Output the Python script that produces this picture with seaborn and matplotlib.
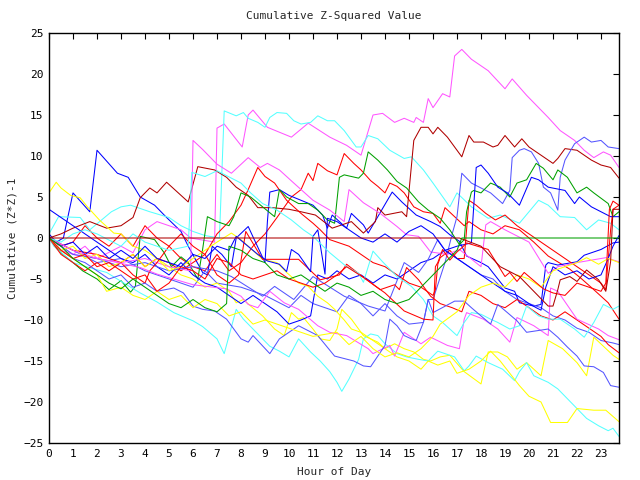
import matplotlib
matplotlib.use("Agg")
import matplotlib.pyplot as plt
import seaborn as sns
import pandas as pd

# ---- data: (hour, cumulative value) vertices ----
magenta_a = [(0,0),(0.5,-1.5),(1,-2),(1.5,-1),(2,-2.5),(3,-1),(3.5,-1.8),(4,1.0),(4.5,2.0),(5,1.5),(5.5,1.0),(5.9,0),
             (6.9,-0.5),(7.0,13.4),(7.3,13.9),(8.05,11.1),(8.3,15.0),(8.5,15.6),(9.1,13.5),(10.1,12.3),(10.8,14.0),
             (11.7,12.3),(12.4,11.3),(13.0,10.1),(13.5,15.0),(13.9,15.2),(14.4,14.1),(14.8,14.6),(15.2,14.1),(15.3,14.7),
             (15.6,14.1),(15.8,17.0),(16.0,15.9),(16.4,17.6),(16.7,17.2),(16.9,22.2),(17.2,23.0),(17.6,21.8),(18.3,20.4),
             (19.0,18.2),(19.3,19.4),(19.9,17.4),(20.4,15.9),(20.8,14.7),(21.3,13.1),(21.9,11.9),(22.3,10.7),(22.7,9.8),
             (23.1,10.5),(23.4,10.1),(23.75,8.6)]
magenta_b = [(0,0),(0.5,-1),(1,-2),(2,-2.5),(3,-3),(4,-2.5),(5,-3.5),(5.9,-4),(6.0,11.9),(6.4,10.8),(7.0,9.0),(7.6,7.9),
             (8.3,9.8),(8.8,8.6),(9.1,9.1),(9.6,8.3),(10.2,6.7),(11.0,4.6),(11.7,3.4),(12.3,2.0),(12.5,5.9),(13.1,4.3),
             (13.8,3.0),(14.5,1.4),(14.9,0.4),(15.4,0.2),(15.9,-1.7),(16.6,-2.0),(17.1,-1.4),(18.0,-3.5),(18.2,1.6),
             (18.4,2.0),(19.0,1.0),(20.0,-0.5),(20.8,-4.3),(21.2,-3.5),(22.0,-3.0),(22.6,-2.7),(23.2,-2.4),(23.75,-2.9)]
magenta_c = [(0,0),(1,-1.5),(2,-2.5),(2.7,-2.9),(3.8,-3.6),(4.5,-4.4),(6.0,-5.7),(7.4,-6.2),(8.0,-7.1),(8.3,-8.1),
             (8.7,-8.5),(8.9,-7.7),(9.2,-6.5),(9.8,-7.9),(10.4,-8.7),(11.2,-10.7),(11.7,-11.5),(12.4,-11.9),(13.3,-13.5),
             (13.5,-14.1),(14.2,-13.1),(14.4,-14.4),(14.8,-11.5),(15.5,-12.9),(15.9,-12.1),(16.6,-13.1),(17.1,-13.5),
             (17.3,-9.9),(17.4,-9.1),(18.1,-9.9),(18.7,-11.1),(19.2,-12.7),(19.5,-9.7),(20.2,-10.7),(20.8,-11.9),
             (20.9,-6.1),(21.2,-6.5),(22.0,-9.9),(22.9,-11.1),(23.3,-11.9),(23.75,-12.4)]
cyan_a = [(0,0.5),(0.4,2.6),(1.3,2.5),(1.7,1.0),(2.6,3.2),(3.0,3.8),(3.4,4.0),(4.2,3.2),(5.0,2.5),(5.5,1.5),(6.0,0.8),
          (6.5,0.3),(7.1,0),(7.3,15.5),(7.8,14.9),(8.1,15.3),(8.3,14.6),(8.7,14.1),(9.0,13.5),(9.2,14.7),(9.5,15.3),
          (9.9,15.2),(10.2,14.3),(10.5,13.9),(10.9,14.1),(11.2,14.9),(11.6,14.3),(11.9,14.3),(12.3,13.1),(12.8,11.1),
          (13.0,11.1),(13.3,12.5),(13.7,12.1),(14.2,10.7),(14.8,9.7),(15.1,9.9),(15.6,8.3),(16.0,6.7),(16.7,3.8),
          (17.0,5.5),(17.6,3.8),(18.3,2.4),(18.8,2.8),(19.6,1.8),(20.4,4.6),(20.8,4.0),(21.3,2.6),(21.9,2.5),
          (22.4,1.0),(22.9,2.2),(23.4,1.8),(23.75,1.0)]
cyan_b = [(0,0),(0.2,-1),(1,-3),(1.9,-3.8),(2.4,-4.2),(3.4,-6),(3.8,-6.7),(4.5,-7.8),(5.2,-9.1),(6.0,-10.1),(6.4,-10.8),
          (7.0,-12.3),(7.3,-14.1),(7.8,-8.7),(8.1,-9.9),(8.5,-11.1),(8.9,-12.3),(9.2,-13.2),(9.6,-13.8),(10.0,-14.5),
          (10.4,-12.3),(10.9,-13.9),(11.3,-15.0),(11.7,-16.3),(12.0,-17.6),(12.2,-18.7),(12.5,-17.2),(12.9,-14.8),
          (13.1,-12.3),(13.4,-11.7),(13.7,-11.9),(14.0,-12.9),(14.5,-14.1),(14.9,-14.5),(15.4,-14.8),(15.8,-15.0),
          (16.2,-13.8),(16.9,-14.5),(17.3,-16.2),(17.5,-15.6),(17.8,-14.4),(18.3,-15.2),(18.9,-16.0),(19.4,-17.4),
          (19.6,-16.3),(19.9,-15.2),(20.2,-16.8),(20.8,-17.6),(21.2,-18.4),(21.6,-19.6),(22.0,-20.8),(22.4,-22.0),
          (22.9,-22.9),(23.3,-23.5),(23.5,-23.2),(23.75,-24.2)]
cyan_c = [(0,0),(0.5,-0.5),(1,0.5),(1.5,1.0),(2,0.5),(3,-1),(3.5,0.5),(4,-0.5),(5,-1.5),(5.8,-1.0),(5.95,8.0),(6.5,7.5),
          (7.0,8.2),(7.6,7.3),(8.0,6.7),(8.4,5.5),(8.9,4.2),(9.5,3.4),(10.1,2.2),(10.6,1.0),(11.0,0.2),(11.7,-1.8),
          (12.4,-3.5),(12.9,-4.3),(13.1,-5.4),(13.5,-1.6),(13.9,-2.9),(14.5,-4.7),(15.1,-5.9),(15.6,-7.5),(16.0,-9.5),
          (16.4,-10.3),(17.0,-11.9),(17.3,-10.3),(17.6,-9.1),(18.0,-9.3),(18.4,-9.9),(18.7,-10.3),(19.2,-11.1),
          (19.6,-10.7),(19.9,-8.3),(20.4,-9.5),(20.8,-9.9),(21.3,-9.9),(21.9,-11.1),(22.3,-12.1),(22.7,-10.3),
          (23.1,-8.1),(23.5,-8.7),(23.75,-8.3)]
darkred_a = [(0,0),(0.5,0.5),(1.0,1.2),(1.7,2.0),(2.4,1.2),(3.0,1.5),(3.5,2.5),(3.8,4.9),(4.2,6.1),(4.5,5.5),(4.9,6.8),
             (5.5,5.2),(5.8,4.4),(6.2,8.7),(6.9,8.3),(7.4,7.4),(7.8,6.2),(8.3,5.2),(8.7,3.7),(9.3,3.7),(10.0,3.5),
             (10.5,3.2),(11.1,2.8),(11.8,1.2),(12.6,2.0),(13.1,0.6),(13.6,2.0),(13.7,3.7),(14.0,2.8),(14.7,3.2),
             (14.9,2.6),(15.2,11.9),(15.5,13.5),(15.8,13.5),(16.0,12.7),(16.2,13.5),(16.6,12.3),(16.9,11.1),(17.2,9.9),
             (17.5,12.5),(17.7,11.7),(18.1,11.7),(18.5,11.1),(18.7,11.3),(19.0,12.5),(19.4,11.1),(19.7,12.1),
             (20.0,11.1),(20.6,9.9),(21.0,9.1),(21.2,9.7),(21.5,10.9),(22.0,10.7),(22.6,9.5),(23.0,8.9),(23.4,8.6),
             (23.75,7.3)]
darkred_b = [(0,0),(17.1,0),(18.0,-1.0),(18.8,-3.5),(19.6,-4.7),(20.2,-6.5),(20.8,-8.3),(21.0,-8.3),(21.2,-6.3),
             (21.3,-5.1),(21.7,-4.7),(22.0,-5.3),(22.4,-3.9),(22.9,-5.1),(23.2,-6.5),(23.4,-2.9),(23.5,3.5),(23.75,3.5)]
green_a = [(0,0),(0.5,-1.8),(1.0,-3.0),(1.4,-4.0),(2.0,-5.0),(2.5,-6.3),(3.0,-5.2),(3.4,-6.6),(3.6,-5.9),(3.8,0.2),
           (4.4,-0.2),(4.8,-1.8),(5.1,-3.5),(5.5,-2.3),(5.8,-3.0),(6.2,-5.0),(6.4,-1.4),(6.6,2.6),(7.0,2.0),(7.5,1.5),
           (7.7,2.6),(8.0,5.5),(8.4,5.0),(8.9,3.8),(9.4,2.6),(9.6,5.9),(9.9,5.0),(10.4,4.2),(10.8,4.2),(11.2,3.4),
           (11.6,2.2),(11.9,1.8),(12.1,7.4),(12.3,7.7),(12.9,7.3),(13.1,7.9),(13.3,10.5),(13.7,9.5),(14.1,8.3),
           (14.5,6.9),(14.9,6.1),(15.4,4.4),(15.8,3.4),(16.3,2.4),(16.7,1.0),(17.1,-0.8),(17.3,-0.2),(17.4,3.2),
           (17.6,5.6),(17.7,5.8),(18.0,5.5),(18.4,6.7),(18.8,6.2),(19.2,5.0),(19.5,6.7),(19.9,7.1),(20.3,9.1),
           (20.6,8.5),(21.0,7.1),(21.2,8.3),(21.6,7.4),(22.0,5.5),(22.4,6.2),(22.7,5.5),(23.3,4.2),(23.5,2.6),
           (23.75,3.2)]
green_b = [(0,0),(0.5,-1.0),(1.0,-2.5),(1.5,-3.5),(2.0,-4.5),(2.5,-5.5),(3.0,-6.2),(3.5,-5.0),(4.0,-6.0),(4.5,-7.0),
           (5.0,-8.0),(5.5,-8.5),(6.0,-7.5),(6.5,-8.5),(7.0,-9.0),(7.4,-8.0),(7.5,-1.0),(8.0,-1.5),(8.5,-2.5),
           (9.0,-3.0),(9.5,-4.5),(10.0,-5.0),(10.5,-4.5),(11.0,-5.5),(11.5,-6.5),(12.0,-5.5),(12.5,-6.0),(13.0,-7.0),
           (13.5,-6.5),(14.0,-7.5),(14.5,-8.0),(15.0,-7.5),(15.5,-6.0),(16.0,-4.5),(16.5,-3.0),(17.0,-1.5),
           (17.2,0),(23.75,0)]
blue_a = [(0,0.5),(0.3,-0.5),(0.6,0),(1.0,5.5),(1.7,3.2),(2.0,10.7),(2.85,7.9),(3.3,7.4),(3.8,5.0),(4.4,4.0),(4.9,2.5),
          (5.5,0.8),(5.8,-1.0),(6.4,-4.2),(6.6,-4.5),(6.8,-1.0),(7.2,-2.0),(7.6,-3.5),(7.8,0),(8.3,1.4),(9.0,-3.0),
          (9.1,2.0),(9.2,5.6),(9.6,5.9),(10.0,5.2),(11.0,4.0),(11.4,2.8),(11.6,1.2),(11.8,2.8),(12.4,1.2),(12.6,3.0),
          (13.1,1.6),(13.3,0.6),(14.3,5.6),(14.7,4.4),(15.3,2.8),(15.9,2.0),(16.3,1.4),(16.7,0.4),(17.1,-0.4),
          (17.4,-2.2),(18.0,-3.0),(18.3,-3.5),(19.0,-6.1),(19.4,-6.5),(19.6,-7.9),(20.2,-8.3),(20.5,-8.1),(20.7,-3.3),
          (20.8,-3.0),(21.2,-3.3),(22.0,-2.9),(22.3,-2.1),(23.0,-1.4),(23.5,-0.6),(23.75,-0.5)]
blue_b = [(0,3.5),(0.5,2.5),(1,1.5),(1.5,0.5),(2,-0.5),(2.5,-1.5),(3,-2.5),(3.5,-3.0),(4,-2.0),(4.5,-3.5),(5,-4.5),
          (5.5,-3.0),(6,-4.5),(6.5,-5.5),(7,-6.0),(7.5,-7.0),(8,-8.0),(8.5,-7.0),(9,-8.0),(9.5,-9.0),(10,-10.5),
          (10.5,-10.0),(10.9,-9.5),(11.2,-4.5),(11.6,-5.0),(12.0,-4.0),(12.5,-5.0),(13.0,-4.5),(13.5,-5.5),
          (14.0,-4.5),(14.5,-5.0),(15.0,-4.0),(15.5,-3.0),(16.0,-2.5),(16.5,-1.5),(17.0,-1.0),(17.6,-0.6),(17.8,8.6),
          (18.0,8.9),(18.3,7.9),(18.7,6.2),(19.1,5.5),(19.4,4.6),(19.6,4.0),(20.1,7.4),(20.4,7.1),(20.8,6.2),
          (21.5,5.8),(21.9,4.2),(22.1,5.0),(22.6,3.8),(23.4,2.6),(23.75,2.6)]
blue_c = [(0,0),(0.5,-1),(1,-0.5),(1.5,-2),(2,-1),(2.5,-2.5),(3,-1.5),(3.5,-2.5),(4,-1),(4.5,-2.5),(5,-3),(5.5,-3.5),
          (6,-2),(6.5,-2.5),(7,-1),(7.5,-1.5),(7.8,0.2),(8.7,-2.0),(9.1,-2.8),(9.6,-3.2),(9.9,-4.1),(10.1,-1.4),
          (10.4,-2.0),(10.9,-4.1),(11.0,0.2),(11.2,1.0),(11.5,-4.4),(11.6,2.4),(12.0,2.0),(12.5,1.0),(13.0,0),
          (13.5,-0.5),(14.0,0.5),(14.5,-0.5),(15.0,0.8),(15.5,1.5),(16.0,0.5),(16.5,-1.5),(17,-2.5),(17.5,-3.5),
          (18,-4.5),(18.5,-5.5),(19,-6.5),(19.5,-7.0),(20,-8.0),(20.3,-8.5),(20.5,-8.8),(20.7,-6.0),(21,-3.5),
          (21.5,-4.5),(22,-4.0),(22.5,-5.0),(23,-4.5),(23.3,-2.5),(23.5,-1.0),(23.75,0.3)]
red_a = [(0,0),(0.5,-1),(1,-0.5),(1.5,1.5),(2,0),(2.5,-1),(3,0.5),(3.5,-1),(4,1.5),(4.5,0),(5,-1),(5.5,-2.5),(6,-3.5),
         (6.5,-4.0),(7,-2),(7.5,-4),(8.0,-3.0),(8.5,-1),(9,0.5),(9.5,2.5),(10.1,5.0),(10.5,5.9),(10.8,7.9),(11.0,7.0),
         (11.2,9.1),(11.6,8.2),(12.0,7.7),(12.3,10.3),(12.7,9.1),(13.0,8.3),(13.4,7.0),(13.7,6.3),(14.0,5.5),
         (14.2,6.7),(14.5,6.3),(14.8,5.5),(15.2,3.8),(15.6,3.2),(16.0,3.0),(16.3,1.8),(16.5,3.7),(16.9,2.6),
         (17.3,1.5),(17.5,2.0),(18,1.0),(18.5,0.5),(19,1.5),(19.6,1.0),(20.2,-0.5),(20.8,-2.2),(21.7,-3.8),
         (22.2,-5.0),(22.7,-6.3),(23.3,-7.9),(23.75,-9.9)]
red_b = [(0,0),(1,-1.5),(2,-2),(3,-3),(3.5,-2),(4,-3.5),(4.5,-2.5),(5,-3),(5.5,-4),(6,-3),(6.5,-2),(7.0,0.5),(7.5,2),
         (8.0,4),(8.3,5.9),(8.7,8.6),(9.0,7.5),(9.4,6.7),(9.9,4.6),(10.5,3.0),(11.0,1.8),(11.3,1.0),(11.7,-0.2),
         (12.5,-1.0),(13,-2),(13.5,-3),(14,-3.5),(14.5,-4.5),(15,-5.5),(15.5,-6),(16.0,-7.0),(16.1,-6.3),
         (16.2,-3.2),(16.3,-2.4),(16.7,-1.5),(17.0,-2.5),(17.3,-2.5),(17.5,4.6),(17.8,4.0),(18.2,3.0),(18.6,2.2),
         (19,2.8),(19.5,1.5),(20,0.5),(20.5,-0.5),(21,-1.5),(21.5,-2.5),(22,-3.5),(22.5,-4.5),(23,-5.5),
         (23.2,-6.3),(23.4,1.0),(23.5,3.5),(23.75,4.0)]
red_c = [(0,0),(0.5,-2),(1,-3),(1.5,-4),(2,-3),(2.5,-4),(3,-3),(3.5,-4.5),(4,-5.5),(4.2,-4),(4.5,-3),(5,-1),(5.5,0.5),
         (6,-1),(6.5,-2),(7,-4.5),(7.5,-5.5),(7.9,-4.5),(8.2,0.8),(8.9,-2.6),(10.4,-2.6),(11.3,-5.1),(12.1,-4.5),
         (12.4,-3.2),(13.1,-4.8),(13.8,-6.3),(14.4,-5.7),(14.6,-6.3),(14.9,-3.6),(15.4,-5.1),(15.9,-7.1),(16.3,-8.0),
         (16.8,-8.5),(17.2,-9.0),(17.5,-6.5),(18.0,-7.0),(18.5,-8.0),(19.0,-8.5),(19.5,-7.5),(20,-8.5),(20.5,-9.5),
         (21,-10.0),(21.5,-9.0),(22,-10.0),(22.5,-11.0),(23,-12.0),(23.3,-13.0),(23.75,-14.0)]
red_d = [(0,0),(0.5,-1.5),(1,-2.5),(1.5,-2),(2,-3.5),(2.5,-3),(3,-4),(3.5,-5),(4,-4.5),(4.5,-6.5),(5,-5.5),(5.5,-3.5),
         (6,-4.0),(6.5,-5),(7,-2.5),(7.5,-3),(8,-4.5),(8.5,-5.0),(9,-4.5),(9.5,-4.0),(10,-5.0),(10.5,-5.5),(11,-6.0),
         (11.5,-5.5),(12,-4.5),(12.4,-3.5),(13.1,-4.8),(14.0,-6.7),(14.8,-8.9),(15.6,-9.9),(16.0,-10.0),(16.1,-3.5),
         (16.2,-3.0),(16.4,-1.4),(16.7,-2.7),(17.0,-1.7),(17.2,-1.2),(17.4,-0.6),(18.3,-1.4),(19.0,-4.7),(19.2,-4.2),
         (19.5,-5.3),(19.8,-4.2),(20.6,-6.2),(21.0,-6.7),(21.5,-7.0),(22.0,-5.5),(22.5,-6.0),(23.0,-6.5),
         (23.2,-5.5),(23.35,3.5),(23.5,4.5),(23.75,4.0)]
yellow_a = [(0,5.5),(0.3,6.8),(0.5,6.1),(0.9,5.2),(1.3,4.9),(1.6,3.8),(2.1,2.2),(2.7,0.6),(3.0,0.5),(3.5,-1),(4,-1.5),
            (4.5,-2.5),(5.0,-3.5),(5.5,-4.5),(6.0,-5),(6.5,-6),(7.0,-5.5),(7.5,-6.5),(7.8,-7.9),(8.1,-7.5),(8.4,-8.3),
            (8.9,-9.5),(9.4,-11.1),(9.8,-11.9),(10.1,-9.1),(10.4,-9.9),(10.6,-9.7),(11.0,-11.1),(11.3,-12.3),
            (11.7,-12.5),(12.0,-11.1),(12.2,-8.7),(12.6,-9.9),(12.9,-11.1),(13.1,-11.9),(13.7,-12.7),(14.0,-13.5),
            (14.4,-12.9),(14.8,-13.5),(15.2,-13.9),(15.6,-14.8),(15.9,-15.0),(16.3,-14.5),(16.7,-14.3),(17.3,-16.3),
            (18.0,-17.8),(18.3,-13.9),(18.7,-13.9),(19.1,-14.5),(19.5,-16.0),(19.9,-15.2),(20.5,-16.8),(20.8,-12.5),
            (21.4,-13.5),(22.0,-15.2),(22.4,-16.8),(22.7,-12.1),(23.1,-13.2),(23.5,-14.3),(23.75,-14.8)]
yellow_b = [(0,0),(0.5,-1.5),(1,-1),(1.5,-2.5),(2,-2),(2.5,-3.5),(3,-3),(3.5,-2),(4,-3.5),(4.5,-2.5),(5,-4),(5.5,-3.5),
            (6,-2.5),(6.5,-1.5),(7,-0.5),(7.6,0.6),(8.0,-0.2),(8.9,-2.6),(9.5,-3.0),(9.9,-4.2),(10.4,-5.5),(10.8,-5.9),
            (11.2,-7.1),(11.6,-7.9),(11.9,-8.7),(12.3,-10.0),(12.6,-11.1),(13,-11.5),(13.5,-12.5),(14,-13.5),
            (14.5,-14.5),(15,-15.0),(15.5,-16.0),(15.8,-15.0),(16.2,-15.5),(16.7,-15.0),(17.0,-16.5),(17.5,-16.0),
            (18.0,-15.0),(18.4,-13.8),(18.8,-15.0),(19.2,-16.5),(19.6,-18.0),(20.0,-19.3),(20.5,-20.0),(20.9,-22.5),
            (21.6,-22.5),(22.0,-20.8),(22.7,-21.0),(23.2,-21.0),(23.75,-22.4)]
yellow_c = [(0,0),(0.5,-1.5),(1,-2.5),(1.5,-3.5),(2,-4.5),(2.4,-6.5),(3.0,-6.0),(3.5,-7.0),(4,-7.5),(4.5,-6.5),(5,-7.5),
            (5.5,-7.0),(6,-8.5),(6.5,-7.5),(7,-8.0),(7.5,-9.5),(8,-9.0),(8.5,-10.5),(9,-10.0),(10,-11.0),(11,-12.0),
            (12,-11.5),(12.5,-13.0),(13,-12.0),(13.5,-13.5),(14,-14.5),(14.5,-14.0),(15,-14.5),(15.5,-13.5),
            (16,-12.0),(16.3,-10.5),(17,-9.0),(17.5,-7.0),(18,-6.0),(18.5,-5.5),(19,-6.0),(19.5,-4.5),(20,-5.0),
            (20.5,-6.0),(21,-4.0),(21.5,-3.5),(22,-3.0),(22.4,-2.4),(22.9,-3.2),(23.3,-2.5),(23.75,-3.0)]
slate_a = [(0,0),(1,-1.5),(2,-3),(3,-2.5),(4,-4),(5,-5),(6,-6),(6.5,-4),(7,-5.5),(8,-6),(9,-7),(10,-8.5),(10.5,-7),
           (11,-8),(12,-9),(12.5,-7),(13,-8),(13.5,-9.5),(14,-8),(14.5,-9.5),(15,-10.5),(15.6,-10.3),(15.8,-7.5),
           (16.0,-7.5),(16.5,-3.0),(16.8,0.5),(17.0,2.6),(17.2,7.9),(17.6,6.7),(18.4,5.5),(18.9,4.2),(19.2,5.8),
           (19.3,9.8),(19.6,10.7),(19.8,10.9),(20.1,10.5),(20.4,9.1),(20.6,6.2),(20.9,5.5),(21.2,3.4),(21.3,7.4),
           (21.5,9.5),(21.9,11.5),(22.3,12.3),(22.6,11.7),(23.0,11.9),(23.3,11.1),(23.75,10.9)]
slate_b = [(0,0),(0.5,-1),(1,-2),(2,-2.5),(3,-3.5),(4,-3),(5,-4),(6,-3.5),(7,-4.0),(7.6,-4.7),(8.9,-7.1),(9.4,-5.9),
           (10.2,-7.5),(11.0,-4.7),(12.3,-7.1),(13.3,-8.3),(14.0,-8.9),(14.8,-3.0),(15.4,-4.2),(15.8,-2.6),(16.2,-0.2),
           (16.5,-1.5),(17,-2.5),(17.5,-3.5),(18,-4.5),(18.5,-5.0),(19,-6.5),(19.5,-7.5),(20,-8.0),(20.5,-8.5),
           (21,-9.5),(21.5,-10.0),(22,-11.0),(22.5,-11.5),(23,-12.5),(23.5,-12.8),(23.75,-13.0)]
slate_c = [(0,0),(0.5,-1.5),(1,-2.5),(1.5,-3),(2,-4),(2.5,-5),(3,-4.5),(3.5,-6),(4,-5.5),(4.5,-6.5),(5.2,-6.1),(5.6,-6.7),
           (6.0,-8.3),(6.4,-8.7),(6.9,-8.9),(7.4,-9.9),(8.0,-12.3),(8.3,-12.7),(8.5,-11.9),(9.2,-14.1),(9.6,-12.3),
           (10.4,-10.7),(11.2,-11.9),(11.9,-14.4),(12.7,-15.0),(13.1,-15.6),(13.4,-15.7),(14.0,-13.1),(14.2,-9.9),
           (14.5,-10.7),(14.8,-11.9),(15.1,-12.3),(15.3,-12.5),(15.6,-10.3),(15.8,-7.5),(16.0,-9.1),(16.9,-7.7),
           (17.3,-7.7),(17.6,-8.5),(18.4,-10.5),(18.7,-8.1),(19.1,-9.1),(19.5,-10.1),(19.9,-11.5),(20.8,-11.1),
           (21.2,-12.1),(21.6,-13.3),(22.0,-14.4),(22.3,-15.6),(22.7,-15.7),(23.1,-16.4),(23.4,-18.0),(23.75,-18.2)]

# drawing order: the flat dark-red / green zero lines end up on top, as in the reference
series = {
    "red_a": red_a, "blue_a": blue_a, "magenta_a": magenta_a,
    "cyan_a": cyan_a, "darkred_a": darkred_a, "slate_a": slate_a, "yellow_a": yellow_a,
    "red_b": red_b, "green_a": green_a, "blue_b": blue_b, "magenta_b": magenta_b, "cyan_b": cyan_b,
    "slate_b": slate_b, "yellow_b": yellow_b, "red_c": red_c, "blue_c": blue_c, "magenta_c": magenta_c,
    "cyan_c": cyan_c, "slate_c": slate_c, "yellow_c": yellow_c, "red_d": red_d,
    "darkred_b": darkred_b, "green_b": green_b,
}
colors = {"red": "#ff0000", "darkred": "#b00000", "green": "#00a000", "blue": "#0000ff",
          "magenta": "#ff55ff", "cyan": "#55ffff", "slate": "#5555ff", "yellow": "#ffff00"}

rows = []
for name, pts in series.items():
    for i, (h, v) in enumerate(pts):
        rows.append({"series": name, "order": i, "hour": h, "value": v})
df = pd.DataFrame(rows)

sns.set_theme(style="white")
plt.rcParams["font.family"] = ["DejaVu Sans Mono"]

fig = plt.figure(figsize=(6.4, 4.8), dpi=100)
ax = fig.add_axes([49/640, 37/480, 570/640, 410/480])
palette = {name: colors[name.rsplit("_", 1)[0]] for name in series}
sns.lineplot(data=df, x="hour", y="value", hue="series", hue_order=list(series), units="series",
             estimator=None, sort=False, palette=palette, linewidth=0.75, legend=False, ax=ax)

ax.set_xlim(0, 23.75)
ax.set_ylim(-25, 25)
ax.set_xticks(range(0, 24))
ax.set_yticks(range(-25, 26, 5))
ax.tick_params(direction="in", length=4, width=0.8, top=True, right=True, labelsize=8, colors="black",
               pad=4)
for s in ax.spines.values():
    s.set_color("black")
    s.set_linewidth(1.0)
ax.set_xlabel("Hour of Day", fontsize=8, labelpad=6)
ax.set_ylabel("Cumulative (Z*Z)-1", fontsize=8, labelpad=4)
ax.set_title("Cumulative Z-Squared Value", fontsize=8, pad=10)
fig.savefig("out.png", dpi=100, facecolor="white")
